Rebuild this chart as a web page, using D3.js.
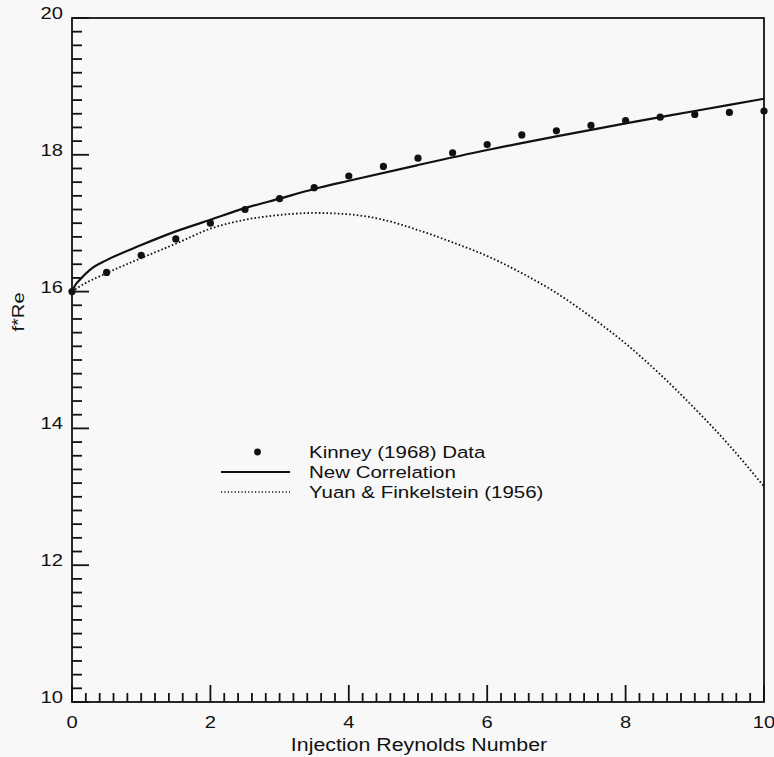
<!DOCTYPE html>
<html>
<head>
<meta charset="utf-8">
<script src="https://cdn.jsdelivr.net/npm/d3@7"></script>
<style>
  html, body { margin: 0; padding: 0; background: #f8f8f8; }
  svg { display: block; }
  text { font-family: "Liberation Sans", Arial, Helvetica, sans-serif; fill: #111; }
</style>
</head>
<body>
<svg id="chart" width="774" height="757"></svg>
<script>
// Kinney (1968) measured points
const kinneyRe = [0, 0.5, 1, 1.5, 2, 2.5, 3, 3.5, 4, 4.5, 5, 5.5, 6, 6.5, 7, 7.5, 8, 8.5, 9, 9.5, 10];
const kinneyFRe = [16.0, 16.28, 16.53, 16.77, 17.0, 17.2, 17.36, 17.52, 17.69, 17.83, 17.95, 18.03, 18.15, 18.29, 18.35, 18.43, 18.5, 18.55, 18.59, 18.62, 18.64];

// New correlation curve
const corrRe = [0, 0.05, 0.12, 0.3, 0.5, 1, 1.5, 2, 2.5, 3, 3.5, 4, 5, 6, 7, 8, 9, 10];
const corrFRe = [16.0, 16.1, 16.18, 16.35, 16.46, 16.68, 16.88, 17.05, 17.22, 17.36, 17.5, 17.62, 17.85, 18.07, 18.27, 18.46, 18.64, 18.82];

// Yuan & Finkelstein (1956) curve
const yuanRe = [0, 0.12, 0.5, 1, 1.5, 2, 2.5, 3, 3.5, 4, 4.5, 5, 5.5, 6, 6.5, 7, 7.5, 8, 8.5, 9, 9.5, 10];
const yuanFRe = [16.0, 16.08, 16.27, 16.49, 16.7, 16.92, 17.05, 17.12, 17.15, 17.13, 17.05, 16.9, 16.72, 16.52, 16.27, 15.98, 15.63, 15.24, 14.79, 14.29, 13.75, 13.15];

const xMajorTicks = [0, 2, 4, 6, 8, 10];
const yMajorTicks = [10, 12, 14, 16, 18, 20];
const minorStep = 0.2;

const legendLabels = ["Kinney (1968) Data", "New Correlation", "Yuan & Finkelstein (1956)"];
const xTitle = "Injection Reynolds Number";
const yTitle = "f*Re";

const svg = d3.select("#chart");
const plotL = 72, plotR = 764, plotT = 18, plotB = 702;
const x = d3.scaleLinear().domain([0, 10]).range([plotL, plotR]);
const y = d3.scaleLinear().domain([10, 20]).range([plotB, plotT]);

// the lettering is a little wide for its height
const stretch = 1.22;
function widen(sel) {
  sel.each(function () {
    const w = this.getComputedTextLength();
    d3.select(this).attr("textLength", w * stretch).attr("lengthAdjust", "spacingAndGlyphs");
  });
}

// frame
svg.append("rect")
  .attr("x", plotL).attr("y", plotT)
  .attr("width", plotR - plotL).attr("height", plotB - plotT)
  .attr("fill", "none").attr("stroke", "#111").attr("stroke-width", 1.8);

// inward ticks: minor every 0.2, major every 2
const isMajor = v => Math.abs(v / 2 - Math.round(v / 2)) < 1e-6;
const xTicks = d3.range(0, 50.5).map(i => i * minorStep);
const yTicks = d3.range(0, 50.5).map(i => 10 + i * minorStep);

svg.append("g").selectAll("line").data(xTicks).join("line")
  .attr("x1", d => x(d)).attr("x2", d => x(d))
  .attr("y1", plotB).attr("y2", d => plotB - (isMajor(d) ? 17 : 9))
  .attr("stroke", "#111").attr("stroke-width", 1.8);

svg.append("g").selectAll("line").data(yTicks).join("line")
  .attr("y1", d => y(d)).attr("y2", d => y(d))
  .attr("x1", plotL).attr("x2", d => plotL + (isMajor(d) ? 17 : 10))
  .attr("stroke", "#111").attr("stroke-width", 1.8);

// tick labels
svg.append("g").selectAll("text").data(xMajorTicks).join("text")
  .attr("x", d => x(d)).attr("y", plotB + 26)
  .attr("text-anchor", "middle").attr("font-size", 16.5)
  .text(d => d).call(widen);

svg.append("g").selectAll("text").data(yMajorTicks).join("text")
  .attr("x", plotL - 9).attr("y", d => y(d) + 1)
  .attr("text-anchor", "end").attr("font-size", 16.5)
  .text(d => d).call(widen);

// axis titles
svg.append("text").attr("x", 419).attr("y", 751)
  .attr("text-anchor", "middle").attr("font-size", 17.5)
  .text(xTitle).call(widen);

svg.append("text")
  .attr("transform", "translate(24,312) rotate(-90)")
  .attr("text-anchor", "middle").attr("font-size", 16.5)
  .text(yTitle).call(widen);

// curves
const line = d3.line().x(d => x(d[0])).y(d => y(d[1])).curve(d3.curveMonotoneX);

svg.append("path")
  .datum(yuanRe.map((v, i) => [v, yuanFRe[i]]))
  .attr("d", line).attr("fill", "none")
  .attr("stroke", "#111").attr("stroke-width", 1.8)
  .attr("stroke-dasharray", "1.6,2.2");

svg.append("path")
  .datum(corrRe.map((v, i) => [v, corrFRe[i]]))
  .attr("d", line).attr("fill", "none")
  .attr("stroke", "#111").attr("stroke-width", 2.2);

svg.append("g").selectAll("circle")
  .data(kinneyRe.map((v, i) => [v, kinneyFRe[i]]))
  .join("circle")
  .attr("cx", d => x(d[0])).attr("cy", d => y(d[1]))
  .attr("r", 3.6).attr("fill", "#111");

// legend
const lg = svg.append("g");
const lx0 = 221, lx1 = 290, tx = 309;
const ly = [452, 472, 492];
lg.append("circle").attr("cx", (lx0 + lx1) / 2 + 2).attr("cy", ly[0]).attr("r", 3.4).attr("fill", "#111");
lg.append("line").attr("x1", lx0).attr("x2", lx1).attr("y1", ly[1]).attr("y2", ly[1])
  .attr("stroke", "#111").attr("stroke-width", 2);
lg.append("line").attr("x1", lx0).attr("x2", lx1).attr("y1", ly[2]).attr("y2", ly[2])
  .attr("stroke", "#111").attr("stroke-width", 1.4).attr("stroke-dasharray", "1.2,2.2");
lg.selectAll("text.lab").data(legendLabels).join("text")
  .attr("class", "lab")
  .attr("x", tx).attr("y", (d, i) => ly[i] + 6)
  .attr("font-size", 16.8)
  .text(d => d).call(widen);
</script>
</body>
</html>
